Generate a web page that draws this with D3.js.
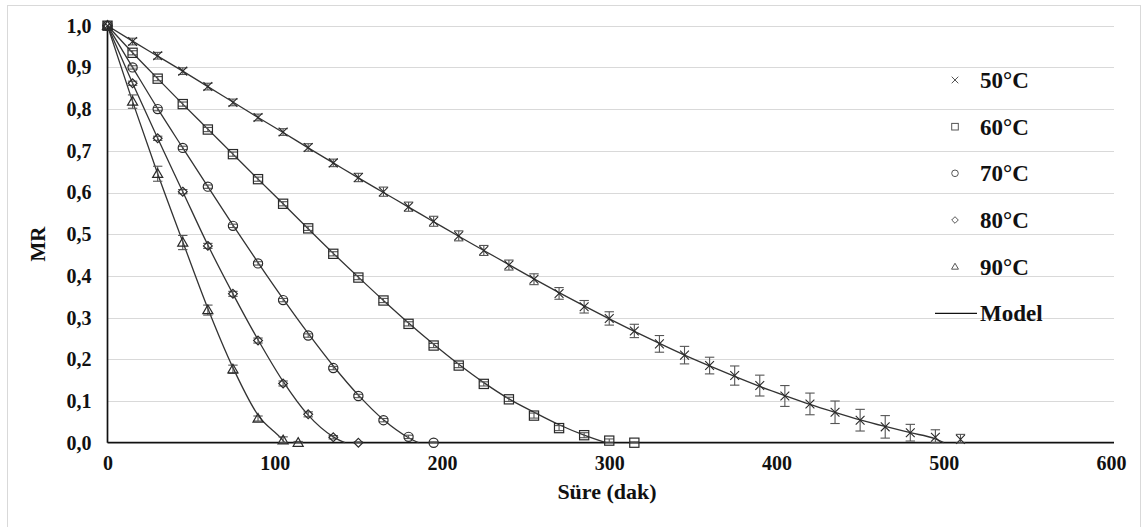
<!DOCTYPE html>
<html><head><meta charset="utf-8">
<script src="https://cdn.jsdelivr.net/npm/d3@7"></script>
<style>html,body{margin:0;padding:0;background:#fff;}svg{display:block;}</style>
</head><body>
<svg id="chart" width="1145" height="527"></svg>
<script>
// ---- data ----
const seriesNames = ["50°C","60°C","70°C","80°C","90°C"];
const t50 = [0,15,30,45,60,75,90,105,120,135,150,165,180,195,210,225,240,255,270,285,300,315,330,345,360,375,390,405,420,435,450,465,480,495,510];
const mr50 = [1.000,0.962,0.928,0.891,0.854,0.816,0.780,0.745,0.708,0.671,0.636,0.602,0.566,0.531,0.496,0.461,0.426,0.392,0.358,0.326,0.298,0.268,0.237,0.210,0.185,0.161,0.137,0.112,0.093,0.073,0.054,0.038,0.024,0.013,0.008];
const err50 = [0,0.008,0.008,0.008,0.008,0.008,0.008,0.008,0.009,0.009,0.010,0.011,0.011,0.012,0.012,0.012,0.012,0.013,0.014,0.015,0.016,0.016,0.020,0.021,0.020,0.023,0.025,0.025,0.026,0.027,0.026,0.027,0.020,0.018,0.012];
const t60 = [0,15,30,45,60,75,90,105,120,135,150,165,180,195,210,225,240,255,270,285,300,315];
const mr60 = [1.000,0.935,0.873,0.812,0.751,0.692,0.632,0.573,0.514,0.453,0.396,0.341,0.285,0.233,0.185,0.141,0.104,0.065,0.035,0.018,0.005,0.000];
const err60 = [0,0.005,0.005,0.005,0.005,0.005,0.005,0.005,0.005,0.005,0.005,0.005,0.005,0.005,0.005,0.005,0.005,0.006,0.006,0.006,0.004,0.002];
const t70 = [0,15,30,45,60,75,90,105,120,135,150,165,180,195];
const mr70 = [1.000,0.900,0.800,0.707,0.614,0.520,0.430,0.342,0.257,0.179,0.112,0.054,0.014,0.000];
const err70 = [0,0.004,0.004,0.004,0.004,0.004,0.004,0.004,0.004,0.004,0.004,0.004,0.004,0.002];
const t80 = [0,15,30,45,60,75,90,105,120,135,150];
const mr80 = [1.000,0.862,0.730,0.602,0.472,0.357,0.245,0.142,0.068,0.013,0.000];
const err80 = [0,0.005,0.005,0.005,0.006,0.006,0.006,0.006,0.006,0.004,0.002];
const t90 = [0,15,30,45,60,75,90,105,114];
const mr90 = [1.000,0.818,0.645,0.480,0.318,0.176,0.058,0.006,0.000];
const err90 = [0,0.016,0.018,0.017,0.012,0.010,0.006,0.008,0.003];

// model curves
const mt50 = [0,15,30,45,60,75,90,105,120,135,150,165,180,195,210,225,240,255,270,285,300,315,330,345,360,375,390,405,420,435,450,465,480,495,500];
const mm50 = [1,0.963,0.927,0.891,0.854,0.817,0.780,0.744,0.707,0.671,0.635,0.600,0.565,0.530,0.495,0.461,0.427,0.393,0.360,0.328,0.297,0.267,0.238,0.210,0.184,0.159,0.135,0.113,0.092,0.073,0.055,0.039,0.024,0.009,0.0];
const mt60 = [0,15,30,45,60,75,90,105,120,135,150,165,180,195,210,225,240,255,270,285,298];
const mm60 = [1,0.935,0.873,0.812,0.752,0.692,0.632,0.573,0.513,0.454,0.397,0.341,0.287,0.236,0.188,0.144,0.105,0.073,0.043,0.018,0.0];
const mt70 = [0,15,30,45,60,75,90,105,120,135,150,165,180,186];
const mm70 = [1,0.900,0.801,0.707,0.614,0.522,0.432,0.345,0.262,0.184,0.114,0.055,0.012,0.0];
const mt80 = [0,15,30,45,60,75,90,105,120,135,142];
const mm80 = [1,0.862,0.730,0.602,0.474,0.357,0.247,0.147,0.066,0.014,0.0];
const mt90 = [0,15,30,45,60,75,90,105,106];
const mm90 = [1,0.818,0.645,0.482,0.322,0.180,0.066,0.005,0.0];

const xTicks = [0,100,200,300,400,500,600];
const yTicks = [0,0.1,0.2,0.3,0.4,0.5,0.6,0.7,0.8,0.9,1.0];
const xTitle = "Süre (dak)";
const yTitle = "MR";
const modelLabel = "Model";

// ---- drawing ----
const svg = d3.select("#chart");
const FONT = "'Liberation Serif','Times New Roman',serif";
const x = d3.scaleLinear().domain([0,600]).range([107.5,1111]);
const y = d3.scaleLinear().domain([0,1]).range([442.7,25.7]);

svg.append("rect").attr("x",7.5).attr("y",5.5).attr("width",1133).attr("height",530)
  .attr("fill","#fff").attr("stroke","#d9d9d9").attr("stroke-width",1);

// gridlines
svg.append("g").selectAll("line").data(yTicks.filter(d=>d>0)).join("line")
  .attr("x1",x(0)).attr("x2",x(600)+3)
  .attr("y1",d=>Math.round(y(d))+0.5).attr("y2",d=>Math.round(y(d))+0.5)
  .attr("stroke","#d9d9d9").attr("stroke-width",1.2);

// axes
const fmt = d=>d3.format(".1f")(d).replace(".",",");
const yAxis = d3.axisLeft(y).tickValues(yTicks).tickFormat(fmt).tickSize(0).tickPadding(16);
const gy = svg.append("g").attr("transform",`translate(${x(0)},0)`).call(yAxis);
const xAxis = d3.axisBottom(x).tickValues(xTicks).tickFormat(d3.format("d")).tickSize(0).tickPadding(13);
const gx = svg.append("g").attr("transform",`translate(0,${y(0)})`).call(xAxis);
[gx,gy].forEach(g=>{
  g.select(".domain").remove();
  g.selectAll("text").attr("font-family",FONT).attr("font-weight","bold").attr("font-size",20).attr("fill","#111");
});
svg.append("line").attr("x1",x(0)).attr("x2",x(0)).attr("y1",y(1)).attr("y2",y(0)).attr("stroke","#111").attr("stroke-width",1.7);
svg.append("line").attr("x1",x(0)).attr("x2",x(600)+3).attr("y1",y(0)).attr("y2",y(0)).attr("stroke","#111").attr("stroke-width",1.7);

// titles
svg.append("text").attr("x",607).attr("y",499).attr("text-anchor","middle")
  .attr("font-family",FONT).attr("font-weight","bold").attr("font-size",22).attr("fill","#111").text(xTitle);
svg.append("text").attr("transform","translate(45,244) rotate(-90)").attr("text-anchor","middle")
  .attr("font-family",FONT).attr("font-weight","bold").attr("font-size",21).attr("fill","#111").text(yTitle);

// models
const models = [[mt50,mm50],[mt60,mm60],[mt70,mm70],[mt80,mm80],[mt90,mm90]];
const line = d3.line().x(d=>x(d[0])).y(d=>y(d[1])).curve(d3.curveMonotoneX);
models.forEach(([t,m])=>{
  svg.append("path").datum(t.map((v,i)=>[v,m[i]])).attr("d",line)
    .attr("fill","none").attr("stroke","#333").attr("stroke-width",1.3);
});

// marker shapes
const MC = "#2a2a2a";
function marker(g, type, s){
  if(type==="x"){
    g.append("path").attr("d",`M${-s},${-s}L${s},${s}M${-s},${s}L${s},${-s}`).attr("stroke",MC).attr("stroke-width",1.1).attr("fill","none");
  } else if(type==="square"){
    g.append("rect").attr("x",-s).attr("y",-s).attr("width",2*s).attr("height",2*s).attr("stroke",MC).attr("stroke-width",1.2).attr("fill","none");
  } else if(type==="circle"){
    g.append("circle").attr("r",s).attr("stroke",MC).attr("stroke-width",1.2).attr("fill","none");
  } else if(type==="diamond"){
    g.append("path").attr("d",`M0,${-s}L${s},0L0,${s}L${-s},0Z`).attr("stroke",MC).attr("stroke-width",1.2).attr("fill","none");
  } else if(type==="triangle"){
    g.append("path").attr("d",`M0,${-s*1.05}L${s*1.05},${s*0.75}L${-s*1.05},${s*0.75}Z`).attr("stroke",MC).attr("stroke-width",1.2).attr("fill","none");
  }
}
const series = [
  {t:t50,v:mr50,e:err50,type:"x",s:4.4},
  {t:t60,v:mr60,e:err60,type:"square",s:4.6},
  {t:t70,v:mr70,e:err70,type:"circle",s:4.6},
  {t:t80,v:mr80,e:err80,type:"diamond",s:4.4},
  {t:t90,v:mr90,e:err90,type:"triangle",s:4.8}
];
series.forEach(sr=>{
  const pts = sr.t.map((t,i)=>({t,v:sr.v[i],e:sr.e[i]}));
  const g = svg.append("g");
  pts.forEach(p=>{
    if(p.e<=0) return;
    const cx=x(p.t), y1=y(p.v+p.e), y2=y(Math.max(0,p.v-p.e));
    const eg=g.append("g").attr("stroke","#555").attr("stroke-width",1.1);
    eg.append("line").attr("x1",cx).attr("x2",cx).attr("y1",y1).attr("y2",y2);
    eg.append("line").attr("x1",cx-4.7).attr("x2",cx+4.7).attr("y1",y1).attr("y2",y1);
    eg.append("line").attr("x1",cx-4.7).attr("x2",cx+4.7).attr("y1",y2).attr("y2",y2);
  });
  pts.forEach(p=>{
    const mg=g.append("g").attr("transform",`translate(${x(p.t)},${y(p.v)})`);
    marker(mg,sr.type,sr.s);
  });
});

// legend
const legY = [80,126.7,173.3,220,266.7];
const lg = svg.append("g");
series.forEach((sr,i)=>{
  const mg=lg.append("g").attr("transform",`translate(955,${legY[i]})`);
  marker(mg,sr.type,3.3);
  mg.selectAll("*").attr("stroke","#555").attr("stroke-width",1);
  lg.append("text").attr("x",980).attr("y",legY[i]).attr("dy","0.35em")
    .attr("font-family",FONT).attr("font-weight","bold").attr("font-size",23).attr("fill","#111").text(seriesNames[i]);
});
lg.append("line").attr("x1",935).attr("x2",977).attr("y1",313.3).attr("y2",313.3).attr("stroke","#111").attr("stroke-width",1.3);
lg.append("text").attr("x",980).attr("y",313.3).attr("dy","0.35em")
  .attr("font-family",FONT).attr("font-weight","bold").attr("font-size",23).attr("fill","#111").text(modelLabel);
</script>
</body></html>
